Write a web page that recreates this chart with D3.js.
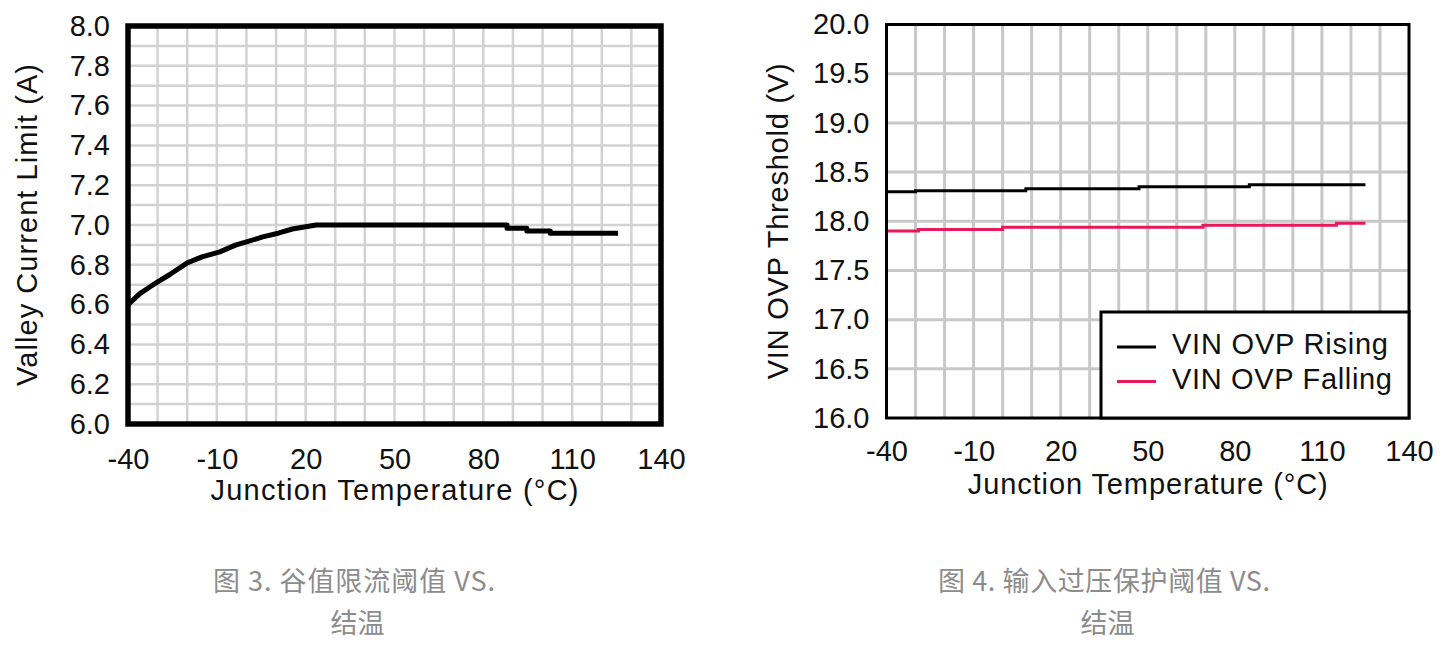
<!DOCTYPE html>
<html>
<head>
<meta charset="utf-8">
<script src="https://cdn.jsdelivr.net/npm/d3@7"></script>
<style>
  body { margin: 0; background: #fff; }
  text { font-family: "Liberation Sans", Arial, sans-serif; fill: #111; }
  .cap { font-family: "Noto Sans CJK SC", sans-serif; fill: #8c8c8c; }
</style>
</head>
<body>
<svg id="chart"></svg>
<script>
// figure 3: valley current limit vs junction temperature
const valleyTemp = [-40, -36, -31.5, -26, -20, -15, -9, -3.5, 0, 5.5, 11, 15.5, 23.5, 88, 88, 94.7, 94.7, 102.6, 102.6, 125.5];
const valleyLimit = [6.60, 6.655, 6.70, 6.75, 6.81, 6.84, 6.865, 6.90, 6.915, 6.94, 6.96, 6.98, 7.0, 7.0, 6.984, 6.984, 6.97, 6.97, 6.958, 6.958];
const valleyYTicks = [6.0, 6.2, 6.4, 6.6, 6.8, 7.0, 7.2, 7.4, 7.6, 7.8, 8.0];

// figure 4: VIN OVP threshold vs junction temperature
const risingTemp = [-40, -30, 8, 47, 85, 125];
const risingV = [18.30, 18.31, 18.33, 18.35, 18.37, 18.37];
const fallingTemp = [-40, -29, 0, 69, 115, 125];
const fallingV = [17.90, 17.915, 17.94, 17.96, 17.98, 17.98];
const ovpYTicks = [16.0, 16.5, 17.0, 17.5, 18.0, 18.5, 19.0, 19.5, 20.0];

const tempTicks = [-40, -10, 20, 50, 80, 110, 140];
const legendNames = ["VIN OVP Rising", "VIN OVP Falling"];
const legendColors = ["#000000", "#e8195b"];

// plain hyphen for negatives, like the original
const tempFormat = (d) => String(d);

const svg = d3.select("#chart")
  .attr("width", 1444)
  .attr("height", 645);

// ---------- left chart ----------
let x1 = d3.scaleLinear().domain([-40, 140]).range([128, 661]);
let y1 = d3.scaleLinear().domain([6, 8]).range([424, 26]);

const g1 = svg.append("g");

g1.append("g")
  .selectAll("line")
  .data(d3.range(-30, 140, 10))
  .enter()
  .append("line")
  .attr("x1", (d) => x1(d)).attr("x2", (d) => x1(d))
  .attr("y1", y1(6)).attr("y2", y1(8))
  .attr("stroke", "#d2d2d2")
  .attr("stroke-width", 2.5);

g1.append("g")
  .selectAll("line")
  .data(d3.range(1, 20).map((i) => 6 + i * 0.1))
  .enter()
  .append("line")
  .attr("x1", x1(-40)).attr("x2", x1(140))
  .attr("y1", (d) => y1(d)).attr("y2", (d) => y1(d))
  .attr("stroke", "#d2d2d2")
  .attr("stroke-width", 2.5);

g1.append("path")
  .datum(d3.zip(valleyTemp, valleyLimit))
  .attr("fill", "none")
  .attr("stroke", "#000")
  .attr("stroke-width", 5)
  .attr("stroke-linejoin", "round")
  .attr("d", d3.line().x((d) => x1(d[0])).y((d) => y1(d[1])));

g1.append("rect")
  .attr("x", x1(-40)).attr("y", y1(8))
  .attr("width", x1(140) - x1(-40))
  .attr("height", y1(6) - y1(8))
  .attr("fill", "none")
  .attr("stroke", "#000")
  .attr("stroke-width", 5.5);

g1.append("g")
  .attr("transform", `translate(${x1(-40)}, 0)`)
  .call(d3.axisLeft(y1).tickValues(valleyYTicks).tickFormat(d3.format(".1f")).tickSize(0).tickPadding(18))
  .call((g) => g.select(".domain").remove())
  .selectAll("text").style("font-size", "29px").style("font-family", null);

g1.append("g")
  .attr("transform", `translate(0, ${y1(6)})`)
  .call(d3.axisBottom(x1).tickValues(tempTicks).tickFormat(tempFormat).tickSize(0).tickPadding(24))
  .call((g) => g.select(".domain").remove())
  .selectAll("text").style("font-size", "29px").style("font-family", null);

g1.append("text")
  .attr("transform", `translate(37, ${(y1(6) + y1(8)) / 2}) rotate(-90)`)
  .attr("text-anchor", "middle")
  .style("font-size", "29px")
  .attr("textLength", 322)
  .text("Valley Current Limit (A)");

g1.append("text")
  .attr("x", (x1(-40) + x1(140)) / 2)
  .attr("y", 500)
  .attr("text-anchor", "middle")
  .style("font-size", "29px")
  .attr("textLength", 368)
  .text("Junction Temperature (°C)");

// ---------- right chart ----------
let x2 = d3.scaleLinear().domain([-40, 140]).range([886.5, 1409]);
let y2 = d3.scaleLinear().domain([16, 20]).range([418, 24.5]);

const g2 = svg.append("g");

g2.append("g")
  .selectAll("line")
  .data(d3.range(-30, 140, 10))
  .enter()
  .append("line")
  .attr("x1", (d) => x2(d)).attr("x2", (d) => x2(d))
  .attr("y1", y2(16)).attr("y2", y2(20))
  .attr("stroke", "#c8c8c8")
  .attr("stroke-width", 3);

g2.append("g")
  .selectAll("line")
  .data(ovpYTicks.slice(1, -1))
  .enter()
  .append("line")
  .attr("x1", x2(-40)).attr("x2", x2(140))
  .attr("y1", (d) => y2(d)).attr("y2", (d) => y2(d))
  .attr("stroke", "#c8c8c8")
  .attr("stroke-width", 3);

const ovpLine = d3.line()
  .curve(d3.curveStepAfter)
  .x((d) => x2(d[0]))
  .y((d) => y2(d[1]));

g2.append("path")
  .datum(d3.zip(risingTemp, risingV))
  .attr("fill", "none")
  .attr("stroke", legendColors[0])
  .attr("stroke-width", 3)
  .attr("d", ovpLine);

g2.append("path")
  .datum(d3.zip(fallingTemp, fallingV))
  .attr("fill", "none")
  .attr("stroke", legendColors[1])
  .attr("stroke-width", 3)
  .attr("d", ovpLine);

g2.append("rect")
  .attr("x", x2(-40)).attr("y", y2(20))
  .attr("width", x2(140) - x2(-40))
  .attr("height", y2(16) - y2(20))
  .attr("fill", "none")
  .attr("stroke", "#000")
  .attr("stroke-width", 3);

// legend box sits in the lower right corner of the plot
const legend = g2.append("g");
legend.append("rect")
  .attr("x", 1101).attr("y", 312)
  .attr("width", x2(140) - 1101)
  .attr("height", y2(16) - 312)
  .attr("fill", "#fff")
  .attr("stroke", "#000")
  .attr("stroke-width", 3);

const legendWidths = [216, 220];
legendNames.forEach((name, i) => {
  let ly = 347 + i * 34.5;
  legend.append("line")
    .attr("x1", 1117).attr("x2", 1156)
    .attr("y1", ly).attr("y2", ly)
    .attr("stroke", legendColors[i])
    .attr("stroke-width", 3);
  legend.append("text")
    .attr("x", 1172)
    .attr("y", ly + 7)
    .style("font-size", "29px")
    .attr("textLength", legendWidths[i])
    .text(name);
});

g2.append("g")
  .attr("transform", `translate(${x2(-40)}, 0)`)
  .call(d3.axisLeft(y2).tickValues(ovpYTicks).tickFormat(d3.format(".1f")).tickSize(0).tickPadding(17))
  .call((g) => g.select(".domain").remove())
  .selectAll("text").style("font-size", "29px").style("font-family", null);

g2.append("g")
  .attr("transform", `translate(0, ${y2(16)})`)
  .call(d3.axisBottom(x2).tickValues(tempTicks).tickFormat(tempFormat).tickSize(0).tickPadding(22))
  .call((g) => g.select(".domain").remove())
  .selectAll("text").style("font-size", "29px").style("font-family", null);

g2.append("text")
  .attr("transform", `translate(788, ${(y2(16) + y2(20)) / 2}) rotate(-90)`)
  .attr("text-anchor", "middle")
  .style("font-size", "29px")
  .attr("textLength", 316)
  .text("VIN OVP Threshold (V)");

g2.append("text")
  .attr("x", (x2(-40) + x2(140)) / 2)
  .attr("y", 494)
  .attr("text-anchor", "middle")
  .style("font-size", "29px")
  .attr("textLength", 360)
  .text("Junction Temperature (°C)");

// ---------- captions ----------
const captions = [
  { cx: 354, w: 282, lines: ["图 3. 谷值限流阈值 VS.", "结温"] },
  { cx: 1104, w: 332, lines: ["图 4. 输入过压保护阈值 VS.", "结温"] }
];
captions.forEach((c) => {
  c.lines.forEach((t, i) => {
    let txt = svg.append("text")
      .attr("class", "cap")
      .attr("x", c.cx + (i ? 3.5 : 0))
      .attr("y", 591 + i * 42)
      .attr("text-anchor", "middle")
      .style("font-size", "27px")
      .text(t);
    if (i === 0) txt.attr("textLength", c.w).attr("lengthAdjust", "spacing");
  });
});
</script>
</body>
</html>
